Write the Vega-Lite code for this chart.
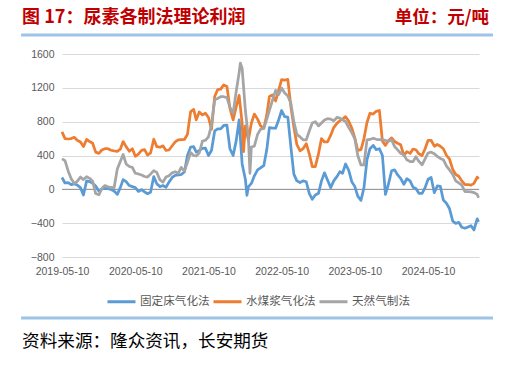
{
"$schema": "https://vega.github.io/schema/vega-lite/v6.json",
"width": 417, "height": 203,
"autosize": {"type": "none"},
"padding": {"left": 62, "top": 54, "right": 27, "bottom": 120},
"background": "white",
"config": {
  "view": {"stroke": null},
  "axis": {"domain": false, "ticks": false, "labelColor": "#595959", "labelFontSize": 10.5, "labelFont": "Liberation Sans"},
  "axisX": {"grid": false, "labelPadding": 9, "labelFlush": false, "labelOverlap": false},
  "axisY": {"grid": true, "gridColor": "#D9D9D9", "gridWidth": 1, "labelPadding": 8, "labelOverlap": false}
},
"datasets": {
"profit": [
{"date":"2019-05-10","method":"固定床气化法","profit":140},
{"date":"2019-05-25","method":"固定床气化法","profit":75},
{"date":"2019-06-10","method":"固定床气化法","profit":80},
{"date":"2019-06-25","method":"固定床气化法","profit":55},
{"date":"2019-07-10","method":"固定床气化法","profit":65},
{"date":"2019-07-25","method":"固定床气化法","profit":50},
{"date":"2019-08-10","method":"固定床气化法","profit":20},
{"date":"2019-08-25","method":"固定床气化法","profit":-67},
{"date":"2019-09-10","method":"固定床气化法","profit":100},
{"date":"2019-09-25","method":"固定床气化法","profit":91},
{"date":"2019-10-10","method":"固定床气化法","profit":72},
{"date":"2019-10-25","method":"固定床气化法","profit":40},
{"date":"2019-11-10","method":"固定床气化法","profit":-20},
{"date":"2019-11-25","method":"固定床气化法","profit":5},
{"date":"2019-12-10","method":"固定床气化法","profit":12},
{"date":"2019-12-25","method":"固定床气化法","profit":8},
{"date":"2020-01-10","method":"固定床气化法","profit":-2},
{"date":"2020-01-25","method":"固定床气化法","profit":-20},
{"date":"2020-02-10","method":"固定床气化法","profit":-60},
{"date":"2020-02-25","method":"固定床气化法","profit":20},
{"date":"2020-03-10","method":"固定床气化法","profit":115},
{"date":"2020-03-25","method":"固定床气化法","profit":90},
{"date":"2020-04-10","method":"固定床气化法","profit":45},
{"date":"2020-04-25","method":"固定床气化法","profit":32},
{"date":"2020-05-10","method":"固定床气化法","profit":20},
{"date":"2020-05-25","method":"固定床气化法","profit":-25},
{"date":"2020-06-10","method":"固定床气化法","profit":-4},
{"date":"2020-06-25","method":"固定床气化法","profit":-30},
{"date":"2020-07-10","method":"固定床气化法","profit":-52},
{"date":"2020-07-25","method":"固定床气化法","profit":-35},
{"date":"2020-08-10","method":"固定床气化法","profit":150},
{"date":"2020-08-25","method":"固定床气化法","profit":65},
{"date":"2020-09-10","method":"固定床气化法","profit":32},
{"date":"2020-09-25","method":"固定床气化法","profit":45},
{"date":"2020-10-10","method":"固定床气化法","profit":25},
{"date":"2020-10-25","method":"固定床气化法","profit":85},
{"date":"2020-11-10","method":"固定床气化法","profit":140},
{"date":"2020-11-25","method":"固定床气化法","profit":165},
{"date":"2020-12-10","method":"固定床气化法","profit":170},
{"date":"2020-12-25","method":"固定床气化法","profit":175},
{"date":"2021-01-10","method":"固定床气化法","profit":205},
{"date":"2021-01-25","method":"固定床气化法","profit":400},
{"date":"2021-02-10","method":"固定床气化法","profit":500},
{"date":"2021-02-25","method":"固定床气化法","profit":505},
{"date":"2021-03-10","method":"固定床气化法","profit":440},
{"date":"2021-03-25","method":"固定床气化法","profit":460},
{"date":"2021-04-10","method":"固定床气化法","profit":484},
{"date":"2021-04-25","method":"固定床气化法","profit":486},
{"date":"2021-05-10","method":"固定床气化法","profit":400},
{"date":"2021-05-25","method":"固定床气化法","profit":460},
{"date":"2021-06-10","method":"固定床气化法","profit":690},
{"date":"2021-06-25","method":"固定床气化法","profit":715},
{"date":"2021-07-10","method":"固定床气化法","profit":715},
{"date":"2021-07-25","method":"固定床气化法","profit":755},
{"date":"2021-08-10","method":"固定床气化法","profit":760},
{"date":"2021-08-25","method":"固定床气化法","profit":480},
{"date":"2021-09-10","method":"固定床气化法","profit":400},
{"date":"2021-09-25","method":"固定床气化法","profit":570},
{"date":"2021-10-10","method":"固定床气化法","profit":820},
{"date":"2021-10-25","method":"固定床气化法","profit":300},
{"date":"2021-11-10","method":"固定床气化法","profit":120},
{"date":"2021-11-18","method":"固定床气化法","profit":-70},
{"date":"2021-11-25","method":"固定床气化法","profit":30},
{"date":"2021-12-10","method":"固定床气化法","profit":70},
{"date":"2021-12-25","method":"固定床气化法","profit":160},
{"date":"2022-01-10","method":"固定床气化法","profit":230},
{"date":"2022-01-25","method":"固定床气化法","profit":255},
{"date":"2022-02-10","method":"固定床气化法","profit":280},
{"date":"2022-02-25","method":"固定床气化法","profit":470},
{"date":"2022-03-10","method":"固定床气化法","profit":730},
{"date":"2022-03-25","method":"固定床气化法","profit":723},
{"date":"2022-04-10","method":"固定床气化法","profit":723},
{"date":"2022-04-25","method":"固定床气化法","profit":820},
{"date":"2022-05-10","method":"固定床气化法","profit":932},
{"date":"2022-05-25","method":"固定床气化法","profit":860},
{"date":"2022-06-10","method":"固定床气化法","profit":855},
{"date":"2022-06-25","method":"固定床气化法","profit":505},
{"date":"2022-07-10","method":"固定床气化法","profit":180},
{"date":"2022-07-25","method":"固定床气化法","profit":100},
{"date":"2022-08-10","method":"固定床气化法","profit":80},
{"date":"2022-08-25","method":"固定床气化法","profit":100},
{"date":"2022-09-10","method":"固定床气化法","profit":90},
{"date":"2022-09-25","method":"固定床气化法","profit":-47},
{"date":"2022-10-10","method":"固定床气化法","profit":-118},
{"date":"2022-10-25","method":"固定床气化法","profit":-67},
{"date":"2022-11-10","method":"固定床气化法","profit":-47},
{"date":"2022-11-25","method":"固定床气化法","profit":100},
{"date":"2022-12-10","method":"固定床气化法","profit":195},
{"date":"2022-12-25","method":"固定床气化法","profit":110},
{"date":"2023-01-10","method":"固定床气化法","profit":20},
{"date":"2023-01-25","method":"固定床气化法","profit":100},
{"date":"2023-02-10","method":"固定床气化法","profit":150},
{"date":"2023-02-25","method":"固定床气化法","profit":209},
{"date":"2023-03-10","method":"固定床气化法","profit":190},
{"date":"2023-03-25","method":"固定床气化法","profit":300},
{"date":"2023-04-10","method":"固定床气化法","profit":225},
{"date":"2023-04-25","method":"固定床气化法","profit":90},
{"date":"2023-05-10","method":"固定床气化法","profit":35},
{"date":"2023-05-25","method":"固定床气化法","profit":-80},
{"date":"2023-06-10","method":"固定床气化法","profit":-130},
{"date":"2023-06-25","method":"固定床气化法","profit":20},
{"date":"2023-07-10","method":"固定床气化法","profit":350},
{"date":"2023-07-25","method":"固定床气化法","profit":480},
{"date":"2023-08-10","method":"固定床气化法","profit":520},
{"date":"2023-08-25","method":"固定床气化法","profit":470},
{"date":"2023-09-10","method":"固定床气化法","profit":480},
{"date":"2023-09-25","method":"固定床气化法","profit":400},
{"date":"2023-10-10","method":"固定床气化法","profit":-60},
{"date":"2023-10-25","method":"固定床气化法","profit":60},
{"date":"2023-11-10","method":"固定床气化法","profit":220},
{"date":"2023-11-25","method":"固定床气化法","profit":230},
{"date":"2023-12-10","method":"固定床气化法","profit":170},
{"date":"2023-12-25","method":"固定床气化法","profit":130},
{"date":"2024-01-10","method":"固定床气化法","profit":60},
{"date":"2024-01-25","method":"固定床气化法","profit":125},
{"date":"2024-02-10","method":"固定床气化法","profit":100},
{"date":"2024-02-25","method":"固定床气化法","profit":25},
{"date":"2024-03-10","method":"固定床气化法","profit":10},
{"date":"2024-03-25","method":"固定床气化法","profit":-47},
{"date":"2024-04-10","method":"固定床气化法","profit":-47},
{"date":"2024-04-25","method":"固定床气化法","profit":20},
{"date":"2024-05-10","method":"固定床气化法","profit":120},
{"date":"2024-05-25","method":"固定床气化法","profit":140},
{"date":"2024-06-10","method":"固定床气化法","profit":-40},
{"date":"2024-06-25","method":"固定床气化法","profit":40},
{"date":"2024-07-10","method":"固定床气化法","profit":35},
{"date":"2024-07-25","method":"固定床气化法","profit":-126},
{"date":"2024-08-10","method":"固定床气化法","profit":-166},
{"date":"2024-08-25","method":"固定床气化法","profit":-230},
{"date":"2024-09-10","method":"固定床气化法","profit":-375},
{"date":"2024-09-25","method":"固定床气化法","profit":-403},
{"date":"2024-10-10","method":"固定床气化法","profit":-390},
{"date":"2024-10-25","method":"固定床气化法","profit":-448},
{"date":"2024-11-10","method":"固定床气化法","profit":-460},
{"date":"2024-11-25","method":"固定床气化法","profit":-445},
{"date":"2024-12-10","method":"固定床气化法","profit":-430},
{"date":"2024-12-25","method":"固定床气化法","profit":-480},
{"date":"2025-01-10","method":"固定床气化法","profit":-350},
{"date":"2025-01-17","method":"固定床气化法","profit":-385},
{"date":"2019-05-10","method":"水煤浆气化法","profit":680},
{"date":"2019-05-25","method":"水煤浆气化法","profit":600},
{"date":"2019-06-10","method":"水煤浆气化法","profit":595},
{"date":"2019-06-25","method":"水煤浆气化法","profit":600},
{"date":"2019-07-10","method":"水煤浆气化法","profit":615},
{"date":"2019-07-25","method":"水煤浆气化法","profit":580},
{"date":"2019-08-10","method":"水煤浆气化法","profit":560},
{"date":"2019-08-25","method":"水煤浆气化法","profit":505},
{"date":"2019-09-10","method":"水煤浆气化法","profit":590},
{"date":"2019-09-25","method":"水煤浆气化法","profit":565},
{"date":"2019-10-10","method":"水煤浆气化法","profit":545},
{"date":"2019-10-25","method":"水煤浆气化法","profit":440},
{"date":"2019-11-10","method":"水煤浆气化法","profit":425},
{"date":"2019-11-25","method":"水煤浆气化法","profit":465},
{"date":"2019-12-10","method":"水煤浆气化法","profit":480},
{"date":"2019-12-25","method":"水煤浆气化法","profit":480},
{"date":"2020-01-10","method":"水煤浆气化法","profit":462},
{"date":"2020-01-25","method":"水煤浆气化法","profit":455},
{"date":"2020-02-10","method":"水煤浆气化法","profit":450},
{"date":"2020-02-25","method":"水煤浆气化法","profit":475},
{"date":"2020-03-10","method":"水煤浆气化法","profit":565},
{"date":"2020-03-25","method":"水煤浆气化法","profit":505},
{"date":"2020-04-10","method":"水煤浆气化法","profit":450},
{"date":"2020-04-25","method":"水煤浆气化法","profit":480},
{"date":"2020-05-10","method":"水煤浆气化法","profit":390},
{"date":"2020-05-25","method":"水煤浆气化法","profit":415},
{"date":"2020-06-10","method":"水煤浆气化法","profit":460},
{"date":"2020-06-25","method":"水煤浆气化法","profit":470},
{"date":"2020-07-10","method":"水煤浆气化法","profit":405},
{"date":"2020-07-25","method":"水煤浆气化法","profit":430},
{"date":"2020-08-10","method":"水煤浆气化法","profit":592},
{"date":"2020-08-25","method":"水煤浆气化法","profit":505},
{"date":"2020-09-10","method":"水煤浆气化法","profit":498},
{"date":"2020-09-25","method":"水煤浆气化法","profit":514},
{"date":"2020-10-10","method":"水煤浆气化法","profit":460},
{"date":"2020-10-25","method":"水煤浆气化法","profit":465},
{"date":"2020-11-10","method":"水煤浆气化法","profit":515},
{"date":"2020-11-25","method":"水煤浆气化法","profit":560},
{"date":"2020-12-10","method":"水煤浆气化法","profit":585},
{"date":"2020-12-25","method":"水煤浆气化法","profit":588},
{"date":"2021-01-10","method":"水煤浆气化法","profit":590},
{"date":"2021-01-25","method":"水煤浆气化法","profit":650},
{"date":"2021-02-10","method":"水煤浆气化法","profit":920},
{"date":"2021-02-25","method":"水煤浆气化法","profit":945},
{"date":"2021-03-10","method":"水煤浆气化法","profit":822},
{"date":"2021-03-25","method":"水煤浆气化法","profit":915},
{"date":"2021-04-10","method":"水煤浆气化法","profit":880},
{"date":"2021-04-25","method":"水煤浆气化法","profit":900},
{"date":"2021-05-10","method":"水煤浆气化法","profit":850},
{"date":"2021-05-25","method":"水煤浆气化法","profit":710},
{"date":"2021-06-10","method":"水煤浆气化法","profit":1098},
{"date":"2021-06-25","method":"水煤浆气化法","profit":1180},
{"date":"2021-07-10","method":"水煤浆气化法","profit":1185},
{"date":"2021-07-25","method":"水煤浆气化法","profit":1235},
{"date":"2021-08-10","method":"水煤浆气化法","profit":1217},
{"date":"2021-08-25","method":"水煤浆气化法","profit":960},
{"date":"2021-09-10","method":"水煤浆气化法","profit":822},
{"date":"2021-09-25","method":"水煤浆气化法","profit":970},
{"date":"2021-10-10","method":"水煤浆气化法","profit":1110},
{"date":"2021-10-25","method":"水煤浆气化法","profit":780},
{"date":"2021-11-01","method":"水煤浆气化法","profit":446},
{"date":"2021-11-10","method":"水煤浆气化法","profit":750},
{"date":"2021-11-25","method":"水煤浆气化法","profit":580},
{"date":"2021-12-10","method":"水煤浆气化法","profit":782},
{"date":"2021-12-25","method":"水煤浆气化法","profit":890},
{"date":"2022-01-10","method":"水煤浆气化法","profit":830},
{"date":"2022-01-25","method":"水煤浆气化法","profit":750},
{"date":"2022-02-10","method":"水煤浆气化法","profit":720},
{"date":"2022-02-25","method":"水煤浆气化法","profit":880},
{"date":"2022-03-10","method":"水煤浆气化法","profit":1098},
{"date":"2022-03-25","method":"水煤浆气化法","profit":1115},
{"date":"2022-04-10","method":"水煤浆气化法","profit":1045},
{"date":"2022-04-25","method":"水煤浆气化法","profit":1170},
{"date":"2022-05-10","method":"水煤浆气化法","profit":1296},
{"date":"2022-05-25","method":"水煤浆气化法","profit":1290},
{"date":"2022-06-10","method":"水煤浆气化法","profit":1300},
{"date":"2022-06-25","method":"水煤浆气化法","profit":980},
{"date":"2022-07-10","method":"水煤浆气化法","profit":740},
{"date":"2022-07-25","method":"水煤浆气化法","profit":530},
{"date":"2022-08-10","method":"水煤浆气化法","profit":455},
{"date":"2022-08-25","method":"水煤浆气化法","profit":480},
{"date":"2022-09-10","method":"水煤浆气化法","profit":540},
{"date":"2022-09-25","method":"水煤浆气化法","profit":420},
{"date":"2022-10-10","method":"水煤浆气化法","profit":269},
{"date":"2022-10-25","method":"水煤浆气化法","profit":269},
{"date":"2022-11-10","method":"水煤浆气化法","profit":420},
{"date":"2022-11-25","method":"水煤浆气化法","profit":600},
{"date":"2022-12-10","method":"水煤浆气化法","profit":560},
{"date":"2022-12-25","method":"水煤浆气化法","profit":560},
{"date":"2023-01-10","method":"水煤浆气化法","profit":640},
{"date":"2023-01-25","method":"水煤浆气化法","profit":730},
{"date":"2023-02-10","method":"水煤浆气化法","profit":780},
{"date":"2023-02-25","method":"水煤浆气化法","profit":812},
{"date":"2023-03-10","method":"水煤浆气化法","profit":830},
{"date":"2023-03-25","method":"水煤浆气化法","profit":860},
{"date":"2023-04-10","method":"水煤浆气化法","profit":805},
{"date":"2023-04-25","method":"水煤浆气化法","profit":725},
{"date":"2023-05-10","method":"水煤浆气化法","profit":610},
{"date":"2023-05-25","method":"水煤浆气化法","profit":460},
{"date":"2023-06-10","method":"水煤浆气化法","profit":470},
{"date":"2023-06-25","method":"水煤浆气化法","profit":600},
{"date":"2023-07-10","method":"水煤浆气化法","profit":790},
{"date":"2023-07-25","method":"水煤浆气化法","profit":900},
{"date":"2023-08-10","method":"水煤浆气化法","profit":890},
{"date":"2023-08-25","method":"水煤浆气化法","profit":922},
{"date":"2023-09-10","method":"水煤浆气化法","profit":932},
{"date":"2023-09-25","method":"水煤浆气化法","profit":570},
{"date":"2023-10-10","method":"水煤浆气化法","profit":520},
{"date":"2023-10-25","method":"水煤浆气化法","profit":575},
{"date":"2023-11-10","method":"水煤浆气化法","profit":608},
{"date":"2023-11-25","method":"水煤浆气化法","profit":565},
{"date":"2023-12-10","method":"水煤浆气化法","profit":545},
{"date":"2023-12-25","method":"水煤浆气化法","profit":528},
{"date":"2024-01-10","method":"水煤浆气化法","profit":400},
{"date":"2024-01-25","method":"水煤浆气化法","profit":446},
{"date":"2024-02-10","method":"水煤浆气化法","profit":425},
{"date":"2024-02-25","method":"水煤浆气化法","profit":475},
{"date":"2024-03-10","method":"水煤浆气化法","profit":468},
{"date":"2024-03-25","method":"水煤浆气化法","profit":420},
{"date":"2024-04-10","method":"水煤浆气化法","profit":400},
{"date":"2024-04-25","method":"水煤浆气化法","profit":480},
{"date":"2024-05-10","method":"水煤浆气化法","profit":580},
{"date":"2024-05-25","method":"水煤浆气化法","profit":580},
{"date":"2024-06-10","method":"水煤浆气化法","profit":510},
{"date":"2024-06-25","method":"水煤浆气化法","profit":530},
{"date":"2024-07-10","method":"水煤浆气化法","profit":510},
{"date":"2024-07-25","method":"水煤浆气化法","profit":480},
{"date":"2024-08-10","method":"水煤浆气化法","profit":400},
{"date":"2024-08-25","method":"水煤浆气化法","profit":356},
{"date":"2024-09-10","method":"水煤浆气化法","profit":235},
{"date":"2024-09-25","method":"水煤浆气化法","profit":175},
{"date":"2024-10-10","method":"水煤浆气化法","profit":155},
{"date":"2024-10-25","method":"水煤浆气化法","profit":100},
{"date":"2024-11-10","method":"水煤浆气化法","profit":55},
{"date":"2024-11-25","method":"水煤浆气化法","profit":57},
{"date":"2024-12-10","method":"水煤浆气化法","profit":50},
{"date":"2024-12-25","method":"水煤浆气化法","profit":70},
{"date":"2025-01-10","method":"水煤浆气化法","profit":145},
{"date":"2025-01-17","method":"水煤浆气化法","profit":125},
{"date":"2019-05-10","method":"天然气制法","profit":360},
{"date":"2019-05-25","method":"天然气制法","profit":340},
{"date":"2019-06-10","method":"天然气制法","profit":215},
{"date":"2019-06-25","method":"天然气制法","profit":125},
{"date":"2019-07-10","method":"天然气制法","profit":70},
{"date":"2019-07-25","method":"天然气制法","profit":95},
{"date":"2019-08-10","method":"天然气制法","profit":145},
{"date":"2019-08-25","method":"天然气制法","profit":115},
{"date":"2019-09-10","method":"天然气制法","profit":150},
{"date":"2019-09-25","method":"天然气制法","profit":130},
{"date":"2019-10-10","method":"天然气制法","profit":95},
{"date":"2019-10-25","method":"天然气制法","profit":-50},
{"date":"2019-11-10","method":"天然气制法","profit":-65},
{"date":"2019-11-25","method":"天然气制法","profit":10},
{"date":"2019-12-10","method":"天然气制法","profit":45},
{"date":"2019-12-25","method":"天然气制法","profit":30},
{"date":"2020-01-10","method":"天然气制法","profit":22},
{"date":"2020-01-25","method":"天然气制法","profit":18},
{"date":"2020-02-10","method":"天然气制法","profit":240},
{"date":"2020-02-25","method":"天然气制法","profit":330},
{"date":"2020-03-10","method":"天然气制法","profit":412},
{"date":"2020-03-25","method":"天然气制法","profit":300},
{"date":"2020-04-10","method":"天然气制法","profit":270},
{"date":"2020-04-25","method":"天然气制法","profit":260},
{"date":"2020-05-10","method":"天然气制法","profit":190},
{"date":"2020-05-25","method":"天然气制法","profit":182},
{"date":"2020-06-10","method":"天然气制法","profit":170},
{"date":"2020-06-25","method":"天然气制法","profit":152},
{"date":"2020-07-10","method":"天然气制法","profit":145},
{"date":"2020-07-25","method":"天然气制法","profit":180},
{"date":"2020-08-10","method":"天然气制法","profit":221},
{"date":"2020-08-25","method":"天然气制法","profit":200},
{"date":"2020-09-10","method":"天然气制法","profit":111},
{"date":"2020-09-25","method":"天然气制法","profit":85},
{"date":"2020-10-10","method":"天然气制法","profit":145},
{"date":"2020-10-25","method":"天然气制法","profit":160},
{"date":"2020-11-10","method":"天然气制法","profit":195},
{"date":"2020-11-25","method":"天然气制法","profit":208},
{"date":"2020-12-10","method":"天然气制法","profit":190},
{"date":"2020-12-25","method":"天然气制法","profit":260},
{"date":"2021-01-10","method":"天然气制法","profit":215},
{"date":"2021-01-25","method":"天然气制法","profit":320},
{"date":"2021-02-10","method":"天然气制法","profit":435},
{"date":"2021-02-25","method":"天然气制法","profit":400},
{"date":"2021-03-10","method":"天然气制法","profit":395},
{"date":"2021-03-25","method":"天然气制法","profit":430},
{"date":"2021-04-10","method":"天然气制法","profit":570},
{"date":"2021-04-25","method":"天然气制法","profit":580},
{"date":"2021-05-10","method":"天然气制法","profit":620},
{"date":"2021-05-25","method":"天然气制法","profit":760},
{"date":"2021-06-10","method":"天然气制法","profit":1059},
{"date":"2021-06-25","method":"天然气制法","profit":1075},
{"date":"2021-07-10","method":"天然气制法","profit":1095},
{"date":"2021-07-25","method":"天然气制法","profit":1095},
{"date":"2021-08-10","method":"天然气制法","profit":1085},
{"date":"2021-08-25","method":"天然气制法","profit":970},
{"date":"2021-09-10","method":"天然气制法","profit":900},
{"date":"2021-09-25","method":"天然气制法","profit":1150},
{"date":"2021-10-10","method":"天然气制法","profit":1380},
{"date":"2021-10-16","method":"天然气制法","profit":1493},
{"date":"2021-10-25","method":"天然气制法","profit":1430},
{"date":"2021-11-10","method":"天然气制法","profit":935},
{"date":"2021-11-25","method":"天然气制法","profit":620},
{"date":"2021-12-03","method":"天然气制法","profit":190},
{"date":"2021-12-10","method":"天然气制法","profit":500},
{"date":"2021-12-25","method":"天然气制法","profit":510},
{"date":"2022-01-10","method":"天然气制法","profit":650},
{"date":"2022-01-25","method":"天然气制法","profit":710},
{"date":"2022-02-10","method":"天然气制法","profit":720},
{"date":"2022-02-25","method":"天然气制法","profit":830},
{"date":"2022-03-10","method":"天然气制法","profit":935},
{"date":"2022-03-25","method":"天然气制法","profit":1050},
{"date":"2022-04-10","method":"天然气制法","profit":1170},
{"date":"2022-04-25","method":"天然气制法","profit":1120},
{"date":"2022-05-10","method":"天然气制法","profit":1197},
{"date":"2022-05-25","method":"天然气制法","profit":1140},
{"date":"2022-06-10","method":"天然气制法","profit":1105},
{"date":"2022-06-25","method":"天然气制法","profit":1019},
{"date":"2022-07-10","method":"天然气制法","profit":800},
{"date":"2022-07-25","method":"天然气制法","profit":650},
{"date":"2022-08-10","method":"天然气制法","profit":620},
{"date":"2022-08-25","method":"天然气制法","profit":585},
{"date":"2022-09-10","method":"天然气制法","profit":585},
{"date":"2022-09-25","method":"天然气制法","profit":690},
{"date":"2022-10-10","method":"天然气制法","profit":785},
{"date":"2022-10-25","method":"天然气制法","profit":800},
{"date":"2022-11-10","method":"天然气制法","profit":750},
{"date":"2022-11-25","method":"天然气制法","profit":785},
{"date":"2022-12-10","method":"天然气制法","profit":820},
{"date":"2022-12-25","method":"天然气制法","profit":835},
{"date":"2023-01-10","method":"天然气制法","profit":830},
{"date":"2023-01-25","method":"天然气制法","profit":810},
{"date":"2023-02-10","method":"天然气制法","profit":850},
{"date":"2023-02-25","method":"天然气制法","profit":841},
{"date":"2023-03-10","method":"天然气制法","profit":822},
{"date":"2023-03-25","method":"天然气制法","profit":802},
{"date":"2023-04-10","method":"天然气制法","profit":730},
{"date":"2023-04-25","method":"天然气制法","profit":670},
{"date":"2023-05-10","method":"天然气制法","profit":600},
{"date":"2023-05-25","method":"天然气制法","profit":400},
{"date":"2023-06-10","method":"天然气制法","profit":288},
{"date":"2023-06-25","method":"天然气制法","profit":288},
{"date":"2023-07-10","method":"天然气制法","profit":585},
{"date":"2023-07-25","method":"天然气制法","profit":590},
{"date":"2023-08-10","method":"天然气制法","profit":604},
{"date":"2023-08-25","method":"天然气制法","profit":592},
{"date":"2023-09-10","method":"天然气制法","profit":588},
{"date":"2023-09-25","method":"天然气制法","profit":585},
{"date":"2023-10-10","method":"天然气制法","profit":578},
{"date":"2023-10-25","method":"天然气制法","profit":567},
{"date":"2023-11-10","method":"天然气制法","profit":585},
{"date":"2023-11-25","method":"天然气制法","profit":505},
{"date":"2023-12-10","method":"天然气制法","profit":466},
{"date":"2023-12-25","method":"天然气制法","profit":427},
{"date":"2024-01-10","method":"天然气制法","profit":407},
{"date":"2024-01-25","method":"天然气制法","profit":348},
{"date":"2024-02-10","method":"天然气制法","profit":328},
{"date":"2024-02-25","method":"天然气制法","profit":328},
{"date":"2024-03-10","method":"天然气制法","profit":385},
{"date":"2024-03-25","method":"天然气制法","profit":330},
{"date":"2024-04-10","method":"天然气制法","profit":290},
{"date":"2024-04-25","method":"天然气制法","profit":360},
{"date":"2024-05-10","method":"天然气制法","profit":430},
{"date":"2024-05-25","method":"天然气制法","profit":440},
{"date":"2024-06-10","method":"天然气制法","profit":420},
{"date":"2024-06-25","method":"天然气制法","profit":390},
{"date":"2024-07-10","method":"天然气制法","profit":365},
{"date":"2024-07-25","method":"天然气制法","profit":350},
{"date":"2024-08-10","method":"天然气制法","profit":275},
{"date":"2024-08-25","method":"天然气制法","profit":229},
{"date":"2024-09-10","method":"天然气制法","profit":175},
{"date":"2024-09-25","method":"天然气制法","profit":100},
{"date":"2024-10-10","method":"天然气制法","profit":75},
{"date":"2024-10-25","method":"天然气制法","profit":50},
{"date":"2024-11-10","method":"天然气制法","profit":-28},
{"date":"2024-11-25","method":"天然气制法","profit":-28},
{"date":"2024-12-10","method":"天然气制法","profit":-30},
{"date":"2024-12-25","method":"天然气制法","profit":-38},
{"date":"2025-01-10","method":"天然气制法","profit":-60},
{"date":"2025-01-17","method":"天然气制法","profit":-100}
]
},
"layer": [
{
  "data": {"values": [{}]},
  "mark": {"type": "rule", "color": "#8C8C8C", "strokeWidth": 1},
  "encoding": {
    "y": {"datum": 0, "type": "quantitative", "title": null, "scale": {"domain": [-800, 1600], "nice": false, "zero": false}, "axis": {"values": [-800, -400, 0, 400, 800, 1200, 1600], "format": "d"}}
  }
},
{
  "data": {"name": "profit"},
  "mark": {"type": "line", "strokeWidth": 2.75, "strokeJoin": "round"},
  "encoding": {
    "x": {"field": "date", "type": "temporal", "title": null,
      "scale": {"type": "utc", "domain": [{"year": 2019, "month": 5, "date": 10, "utc": true}, {"year": 2025, "month": 1, "date": 19, "utc": true}]},
      "axis": {"values": [{"year": 2019, "month": 5, "date": 10, "utc": true}, {"year": 2020, "month": 5, "date": 10, "utc": true}, {"year": 2021, "month": 5, "date": 10, "utc": true}, {"year": 2022, "month": 5, "date": 10, "utc": true}, {"year": 2023, "month": 5, "date": 10, "utc": true}, {"year": 2024, "month": 5, "date": 10, "utc": true}], "format": "%Y-%m-%d"}},
    "y": {"field": "profit", "type": "quantitative", "title": null,
      "scale": {"domain": [-800, 1600], "nice": false, "zero": false},
      "axis": {"values": [-800, -400, 0, 400, 800, 1200, 1600], "format": "d"}},
    "color": {"field": "method", "type": "nominal",
      "scale": {"domain": ["固定床气化法", "水煤浆气化法", "天然气制法"], "range": ["#5B9BD5", "#ED7D31", "#A5A5A5"]},
      "legend": {"orient": "none", "legendX": 44, "legendY": 232, "direction": "horizontal", "title": null, "symbolType": "stroke", "symbolSize": 784, "symbolStrokeWidth": 3, "labelFontSize": 11.6, "labelColor": "#595959", "labelFont": "Noto Sans CJK SC", "columnPadding": -3, "labelOffset": 3, "padding": 0}}
  }
},
{
  "data": {"values": [{}]},
  "mark": {"type": "rule", "color": "#9DC3E6", "strokeWidth": 3},
  "encoding": {
    "x": {"datum": {"year": 2018, "month": 10, "date": 18, "utc": true}, "type": "temporal", "title": null, "axis": {"values": [{"year": 2019, "month": 5, "date": 10, "utc": true}, {"year": 2020, "month": 5, "date": 10, "utc": true}, {"year": 2021, "month": 5, "date": 10, "utc": true}, {"year": 2022, "month": 5, "date": 10, "utc": true}, {"year": 2023, "month": 5, "date": 10, "utc": true}, {"year": 2024, "month": 5, "date": 10, "utc": true}], "format": "%Y-%m-%d"}},
    "x2": {"datum": {"year": 2025, "month": 3, "date": 30, "utc": true}},
    "y": {"datum": 1825, "type": "quantitative", "title": null, "axis": {"values": [-800, -400, 0, 400, 800, 1200, 1600], "format": "d"}}
  }
},
{
  "data": {"values": [{}]},
  "mark": {"type": "rule", "color": "#9DC3E6", "strokeWidth": 3},
  "encoding": {
    "x": {"datum": {"year": 2018, "month": 10, "date": 18, "utc": true}, "type": "temporal", "title": null, "axis": {"values": [{"year": 2019, "month": 5, "date": 10, "utc": true}, {"year": 2020, "month": 5, "date": 10, "utc": true}, {"year": 2021, "month": 5, "date": 10, "utc": true}, {"year": 2022, "month": 5, "date": 10, "utc": true}, {"year": 2023, "month": 5, "date": 10, "utc": true}, {"year": 2024, "month": 5, "date": 10, "utc": true}], "format": "%Y-%m-%d"}},
    "x2": {"datum": {"year": 2025, "month": 3, "date": 30, "utc": true}},
    "y": {"datum": -1521, "type": "quantitative", "title": null, "axis": {"values": [-800, -400, 0, 400, 800, 1200, 1600], "format": "d"}}
  }
},
{
  "data": {"values": [{}]},
  "mark": {"type": "text", "align": "left", "baseline": "middle", "fontSize": 18, "fontWeight": "bold", "color": "#C00000", "font": "Noto Sans CJK SC"},
  "encoding": {
    "x": {"datum": {"year": 2018, "month": 10, "date": 23, "utc": true}, "type": "temporal", "title": null, "axis": {"values": [{"year": 2019, "month": 5, "date": 10, "utc": true}, {"year": 2020, "month": 5, "date": 10, "utc": true}, {"year": 2021, "month": 5, "date": 10, "utc": true}, {"year": 2022, "month": 5, "date": 10, "utc": true}, {"year": 2023, "month": 5, "date": 10, "utc": true}, {"year": 2024, "month": 5, "date": 10, "utc": true}], "format": "%Y-%m-%d"}},
    "y": {"datum": 2020, "type": "quantitative", "title": null, "axis": {"values": [-800, -400, 0, 400, 800, 1200, 1600], "format": "d"}},
    "text": {"value": "图 17：尿素各制法理论利润"}
  }
},
{
  "data": {"values": [{}]},
  "mark": {"type": "text", "align": "right", "baseline": "middle", "fontSize": 17.5, "fontWeight": "bold", "color": "#C00000", "font": "Noto Sans CJK SC"},
  "encoding": {
    "x": {"datum": {"year": 2025, "month": 3, "date": 10, "utc": true}, "type": "temporal", "title": null, "axis": {"values": [{"year": 2019, "month": 5, "date": 10, "utc": true}, {"year": 2020, "month": 5, "date": 10, "utc": true}, {"year": 2021, "month": 5, "date": 10, "utc": true}, {"year": 2022, "month": 5, "date": 10, "utc": true}, {"year": 2023, "month": 5, "date": 10, "utc": true}, {"year": 2024, "month": 5, "date": 10, "utc": true}], "format": "%Y-%m-%d"}},
    "y": {"datum": 2020, "type": "quantitative", "title": null, "axis": {"values": [-800, -400, 0, 400, 800, 1200, 1600], "format": "d"}},
    "text": {"value": "单位：元/吨"}
  }
},
{
  "data": {"values": [{}]},
  "mark": {"type": "text", "align": "left", "baseline": "middle", "fontSize": 17.6, "color": "#000000", "font": "Noto Sans CJK SC"},
  "encoding": {
    "x": {"datum": {"year": 2018, "month": 10, "date": 23, "utc": true}, "type": "temporal", "title": null, "axis": {"values": [{"year": 2019, "month": 5, "date": 10, "utc": true}, {"year": 2020, "month": 5, "date": 10, "utc": true}, {"year": 2021, "month": 5, "date": 10, "utc": true}, {"year": 2022, "month": 5, "date": 10, "utc": true}, {"year": 2023, "month": 5, "date": 10, "utc": true}, {"year": 2024, "month": 5, "date": 10, "utc": true}], "format": "%Y-%m-%d"}},
    "y": {"datum": -1805, "type": "quantitative", "title": null, "axis": {"values": [-800, -400, 0, 400, 800, 1200, 1600], "format": "d"}},
    "text": {"value": "资料来源：隆众资讯，长安期货"}
  }
}
]
}
